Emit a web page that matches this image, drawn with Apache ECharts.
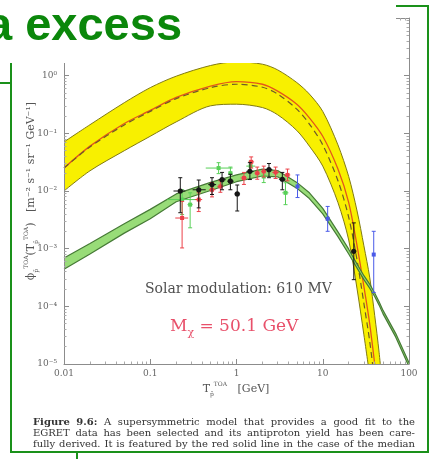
<!DOCTYPE html>
<html>
<head>
<meta charset="utf-8">
<script src="https://cdn.jsdelivr.net/npm/echarts@6/dist/echarts.min.js"></script>
<style>
  html, body { margin: 0; padding: 0; background: #fff; }
  #chart { width: 435px; height: 459px; }
</style>
</head>
<body>
<div id="chart"></div>
<script>
// kinetic energy grid of the model curves [GeV]
const curveE = [0.01, 0.02, 0.05, 0.1, 0.2, 0.5, 1, 2, 3, 5, 7, 10, 15, 20, 25, 30, 35, 40, 45, 50, 70, 100];
// flux [m^-2 s^-1 sr^-1 GeV^-1], null = not drawn
const yellowHi = [0.071, 0.141, 0.34, 0.62, 0.98, 1.5, 1.74, 1.58, 1.26, 0.76, 0.48, 0.24, 0.063, 0.0178, 4.5e-3, 1.12e-3, 3.2e-4, 7e-5, 1.6e-5, 3.2e-6, null, null];
const yellowLo = [0.01, 0.0224, 0.05, 0.089, 0.158, 0.30, 0.32, 0.28, 0.21, 0.112, 0.06, 0.027, 6.3e-3, 1.41e-3, 2e-4, 3.2e-5, 6.3e-6, null, null, null, null, null];
const medianRed = [0.025, 0.06, 0.148, 0.25, 0.42, 0.66, 0.79, 0.71, 0.54, 0.32, 0.186, 0.089, 0.024, 6.3e-3, 1.12e-3, 2.2e-4, 5e-5, 1e-5, null, null, null, null];
const dashedCurve = [0.025, 0.058, 0.14, 0.24, 0.4, 0.62, 0.71, 0.63, 0.48, 0.263, 0.145, 0.063, 0.0151, 3.5e-3, 6.3e-4, 1.12e-4, 2.5e-5, 5e-6, null, null, null, null];
const greenHi = [6.9e-4, 1.23e-3, 2.7e-3, 4.8e-3, 8.9e-3, 1.41e-2, 1.9e-2, 2.4e-2, 2.26e-2, 1.41e-2, 9.3e-3, 5e-3, 1.95e-3, 9.8e-4, 5.4e-4, 3.4e-4, 2.43e-4, 1.7e-4, 1.2e-4, 8.5e-5, 3.4e-5, 1.05e-5];
const greenLo = [4.4e-4, 8.1e-4, 1.86e-3, 3.3e-3, 6.5e-3, 1.02e-2, 1.45e-2, 1.82e-2, 1.76e-2, 1.12e-2, 7.4e-3, 4e-3, 1.62e-3, 8.1e-4, 4.6e-4, 2.9e-4, 2.07e-4, 1.48e-4, 1.05e-4, 7.4e-5, 2.95e-5, 0.9e-5];

// measured points: [E, flux, fluxLow, fluxHigh, eLow, eHigh]
const blackPts = [
  [0.223, 1.0e-2, 4.2e-3, 1.7e-2, 0.186, 0.255],
  [0.365, 1.05e-2, 5.1e-3, 1.55e-2, 0.31, 0.44],
  [0.52, 1.29e-2, 8.7e-3, 1.7e-2, 0.47, 0.58],
  [0.68, 1.57e-2, 1.05e-2, 2.1e-2, 0.62, 0.75],
  [0.85, 1.48e-2, 1.05e-2, 1.95e-2, 0.78, 0.93],
  [1.02, 8.9e-3, 4.5e-3, 1.27e-2, 0.95, 1.1],
  [1.43, 2.19e-2, 1.58e-2, 3.1e-2, 1.3, 1.58],
  [2.38, 2.34e-2, 1.7e-2, 3.0e-2, 2.15, 2.6],
  [3.4, 1.6e-2, 1.05e-2, 2.1e-2, 3.1, 3.7],
  [22.9, 9.0e-4, 2.9e-4, 2.8e-3, 22, 24]
];
const redPts = [
  [0.234, 3.4e-3, 1.03e-3, 6.6e-3, 0.195, 0.275],
  [0.365, 7.1e-3, 4.4e-3, 9.3e-3, 0.33, 0.40],
  [0.52, 1.05e-2, 7.9e-3, 1.4e-2, 0.48, 0.57],
  [0.65, 1.2e-2, 9.5e-3, 1.5e-2, 0.6, 0.7],
  [1.22, 1.68e-2, 1.3e-2, 2.1e-2, 1.12, 1.32],
  [1.48, 3.2e-2, 2.5e-2, 3.9e-2, 1.38, 1.6],
  [1.74, 2.04e-2, 1.6e-2, 2.6e-2, 1.62, 1.87],
  [2.07, 2.19e-2, 1.75e-2, 2.7e-2, 1.93, 2.2],
  [2.84, 2.1e-2, 1.65e-2, 2.6e-2, 2.6, 3.1],
  [3.9, 1.9e-2, 1.5e-2, 2.4e-2, 3.6, 4.2]
];
const greenPts = [
  [0.234, 7.1e-3, 3.9e-3, 1.05e-2, 0.158, 0.35],
  [0.29, 5.8e-3, 2.3e-3, 9.3e-3, 0.27, 0.31],
  [0.62, 2.5e-2, 2.0e-2, 3.1e-2, 0.44, 0.9],
  [0.85, 2.04e-2, 1.6e-2, 2.6e-2, 0.8, 0.9],
  [1.46, 2.7e-2, 2.1e-2, 3.3e-2, 1.3, 1.65],
  [2.07, 1.78e-2, 1.4e-2, 2.2e-2, 1.9, 2.25],
  [3.7, 9.3e-3, 5.8e-3, 1.39e-2, 3.4, 4.0]
];
const bluePts = [
  [5.1, 1.2e-2, 7.7e-3, 1.9e-2, 5.1, 5.1],
  [11.4, 3.3e-3, 2.0e-3, 5.4e-3, 11.4, 11.4],
  [39, 7.9e-4, 1.74e-4, 2.0e-3, 39, 39]
];

const captionLines = [
  'Figure 9.6: A supersymmetric model that provides a good fit to the',
  'EGRET data has been selected and its antiproton yield has been care-',
  'fully derived. It is featured by the red solid line in the case of the median'
];

const chart = echarts.init(document.getElementById('chart'), null, { renderer: 'canvas' });

function pairs(vals) {
  const out = [];
  curveE.forEach((e, i) => { if (vals[i] != null) out.push([e, vals[i]]); });
  return out;
}

// filled band between two curves, drawn through the axes
function band(hi, lo, fill, z) {
  const pts = pairs(hi).concat(pairs(lo).reverse());
  return {
    type: 'custom',
    clip: true,
    z: z,
    silent: true,
    data: [[1, 1]],
    renderItem: function (params, api) {
      return {
        type: 'polygon',
        shape: { points: pts.map(p => api.coord(p)) },
        style: { fill: fill }
      };
    }
  };
}

function curve(vals, color, width, type, z, smooth, area) {
  const s = {
    type: 'line',
    data: pairs(vals),
    showSymbol: false,
    silent: true,
    smooth: smooth,
    z: z,
    lineStyle: { color: color, width: width, type: type || 'solid' }
  };
  if (area) s.areaStyle = { color: area, opacity: 1, origin: 'start' };
  return s;
}

function errorBars(rows, color, z, marker) {
  return {
    type: 'custom',
    clip: true,
    z: z,
    silent: true,
    data: rows,
    renderItem: function (params, api) {
      const c = api.coord([api.value(0), api.value(1)]);
      const lo = api.coord([api.value(0), api.value(2)]);
      const hi = api.coord([api.value(0), api.value(3)]);
      const l = api.coord([api.value(4), api.value(1)]);
      const r = api.coord([api.value(5), api.value(1)]);
      const st = { stroke: color, lineWidth: 1 };
      const mark = marker === 'circle'
        ? { type: 'circle', shape: { cx: c[0], cy: c[1], r: 2.6 }, style: { fill: color } }
        : { type: 'rect', shape: { x: c[0] - 2, y: c[1] - 2, width: 4, height: 4 }, style: { fill: color } };
      return {
        type: 'group',
        children: [
          { type: 'line', shape: { x1: c[0], y1: lo[1], x2: c[0], y2: hi[1] }, style: st },
          { type: 'line', shape: { x1: c[0] - 2, y1: lo[1], x2: c[0] + 2, y2: lo[1] }, style: st },
          { type: 'line', shape: { x1: c[0] - 2, y1: hi[1], x2: c[0] + 2, y2: hi[1] }, style: st },
          { type: 'line', shape: { x1: l[0], y1: c[1], x2: r[0], y2: c[1] }, style: st },
          mark
        ]
      };
    }
  };
}

const axisGray = '#8c8c8c';
const supDigits = { '-': '⁻', '0': '⁰', '1': '¹', '2': '²', '3': '³', '4': '⁴', '5': '⁵' };

function logAxisX(show, pos) {
  return {
    type: 'log', logBase: 10, min: 0.01, max: 100, position: pos, z: 10,
    axisLine: { show: true, lineStyle: { color: axisGray, width: 1 } },
    axisTick: { show: true, inside: true, length: 5, lineStyle: { color: axisGray } },
    minorTick: { show: true, splitNumber: 9, length: 2.5, lineStyle: { color: '#aaa' } },
    splitLine: { show: false },
    axisLabel: {
      show: show, margin: 5, color: '#666', fontFamily: 'DejaVu Serif', fontSize: 9,
      formatter: v => String(v)
    }
  };
}
function logAxisY(show, pos) {
  return {
    type: 'log', logBase: 10, min: 1e-5, max: 10, position: pos, z: 10,
    axisLine: { show: true, lineStyle: { color: axisGray, width: 1 } },
    axisTick: { show: true, inside: true, length: 5, lineStyle: { color: axisGray } },
    minorTick: { show: true, splitNumber: 9, length: 2.5, lineStyle: { color: '#aaa' } },
    splitLine: { show: false },
    axisLabel: {
      show: show, margin: 7, color: '#666', fontFamily: 'DejaVu Serif', fontSize: 9,
      formatter: v => '10' + String(Math.round(Math.log10(v))).split('').map(ch => supDigits[ch]).join('')
    }
  };
}

const nameRich = {
  t: { fontFamily: 'DejaVu Serif', fontSize: 11, fill: '#555', lineHeight: 16 },
  sb: { fontFamily: 'DejaVu Serif', fontSize: 6, fill: '#555', verticalAlign: 'bottom', lineHeight: 16 },
  sp: { fontFamily: 'DejaVu Serif', fontSize: 6, fill: '#555', verticalAlign: 'top', lineHeight: 16 }
};

// justified caption: one text element per word
const measureCtx = document.createElement('canvas').getContext('2d');
const capFont = '10px "DejaVu Serif"';
const capBold = 'bold 10px "DejaVu Serif"';
function captionGraphics(lines, left, right, top, step) {
  const out = [];
  lines.forEach((line, li) => {
    const words = line.split(' ');
    const fonts = words.map((w, wi) => (li === 0 && wi < 2) ? capBold : capFont);
    const widths = words.map((w, wi) => { measureCtx.font = fonts[wi]; return measureCtx.measureText(w).width; });
    const total = widths.reduce((a, b) => a + b, 0);
    const gap = (right - left - total) / (words.length - 1);
    let x = left;
    words.forEach((w, wi) => {
      out.push({ type: 'text', x: x, y: top + li * step, z: 50, style: { text: w, font: fonts[wi], fill: '#333', verticalAlign: 'middle' } });
      x += widths[wi] + gap;
    });
  });
  return out;
}

const frameGreen = '#1a911a';

chart.setOption({
  animation: false,
  backgroundColor: '#fff',
  grid: { left: 64, right: 26, top: 18, bottom: 95 },
  xAxis: [logAxisX(true, 'bottom'), logAxisX(false, 'top')],
  yAxis: [logAxisY(true, 'left'), logAxisY(false, 'right')],
  series: [
    // yellow band: fill under the upper edge, then blank out below the lower edge
    curve(yellowHi, '#807a12', 1, 'solid', 1, 0.3, '#f8f000'),
    curve(yellowLo, '#807a12', 1, 'solid', 1, 0.3, '#ffffff'),
    curve(medianRed, '#e4561a', 1.3, 'solid', 3, 0.3),
    curve(dashedCurve, '#6e5a2a', 1.2, [6, 4], 3, 0.3),
    band(greenHi, greenLo, '#98dc78', 4),
    curve(greenHi, '#467a36', 1.2, 'solid', 5, false),
    curve(greenLo, '#467a36', 1.2, 'solid', 5, false),
    errorBars(greenPts, '#58d058', 6, 'rect'),
    errorBars(bluePts, '#4a5ae8', 6, 'rect'),
    errorBars(redPts, '#ec4048', 7, 'rect'),
    errorBars(blackPts, '#151515', 8, 'circle')
  ],
  graphic: [
    // axis titles
    {
      type: 'text', x: 236, y: 389, z: 50,
      style: { text: '{t|T}{sb|p̄}{sp|TOA}{t|   [GeV]}', rich: nameRich, align: 'center', verticalAlign: 'middle' }
    },
    {
      type: 'text', x: 31, y: 191, rotation: Math.PI / 2, z: 50,
      style: { text: '{t|ϕ}{sb|p̄}{sp|TOA}{t|(T}{sb|p̄}{sp|TOA}{t|)   [m⁻² s⁻¹ sr⁻¹ GeV⁻¹]}', rich: nameRich, align: 'center', verticalAlign: 'middle' }
    },
    {
      type: 'text', left: 145, top: 282, z: 50,
      style: { text: 'Solar modulation: 610 MV', font: '14px "DejaVu Serif"', fill: '#505050' }
    },
    {
      type: 'text', left: 170, top: 318, z: 50,
      style: {
        text: '{m|M}{s|χ}{m| = 50.1 GeV}',
        rich: {
          m: { fontFamily: 'DejaVu Serif', fontSize: 17, fill: '#e8506a', lineHeight: 24 },
          s: { fontFamily: 'DejaVu Serif', fontSize: 11, fill: '#e8506a', verticalAlign: 'bottom', lineHeight: 24 }
        }
      }
    }
  ].concat(captionGraphics(captionLines, 33, 415, 422, 11.3)).concat([
    // slide title area covers the top of the figure
    { type: 'rect', z: 90, shape: { x: 0, y: 0, width: 396, height: 63 }, style: { fill: '#fff' } },
    {
      type: 'text', x: -14, y: 27, z: 91,
      style: { text: 'a excess', font: 'bold 47px "Liberation Sans"', fill: '#0b870b', verticalAlign: 'middle' }
    },
    // green frame lines of the slide
    { type: 'polyline', z: 92, shape: { points: [[396, 6], [428, 6], [428, 452], [11, 452], [11, 63]] }, style: { stroke: frameGreen, lineWidth: 2, fill: null } },
    { type: 'line', z: 92, shape: { x1: 0, y1: 83, x2: 11, y2: 83 }, style: { stroke: frameGreen, lineWidth: 2 } },
    { type: 'line', z: 92, shape: { x1: 77, y1: 452, x2: 77, y2: 459 }, style: { stroke: frameGreen, lineWidth: 2 } }
  ])
});
</script>
</body>
</html>
